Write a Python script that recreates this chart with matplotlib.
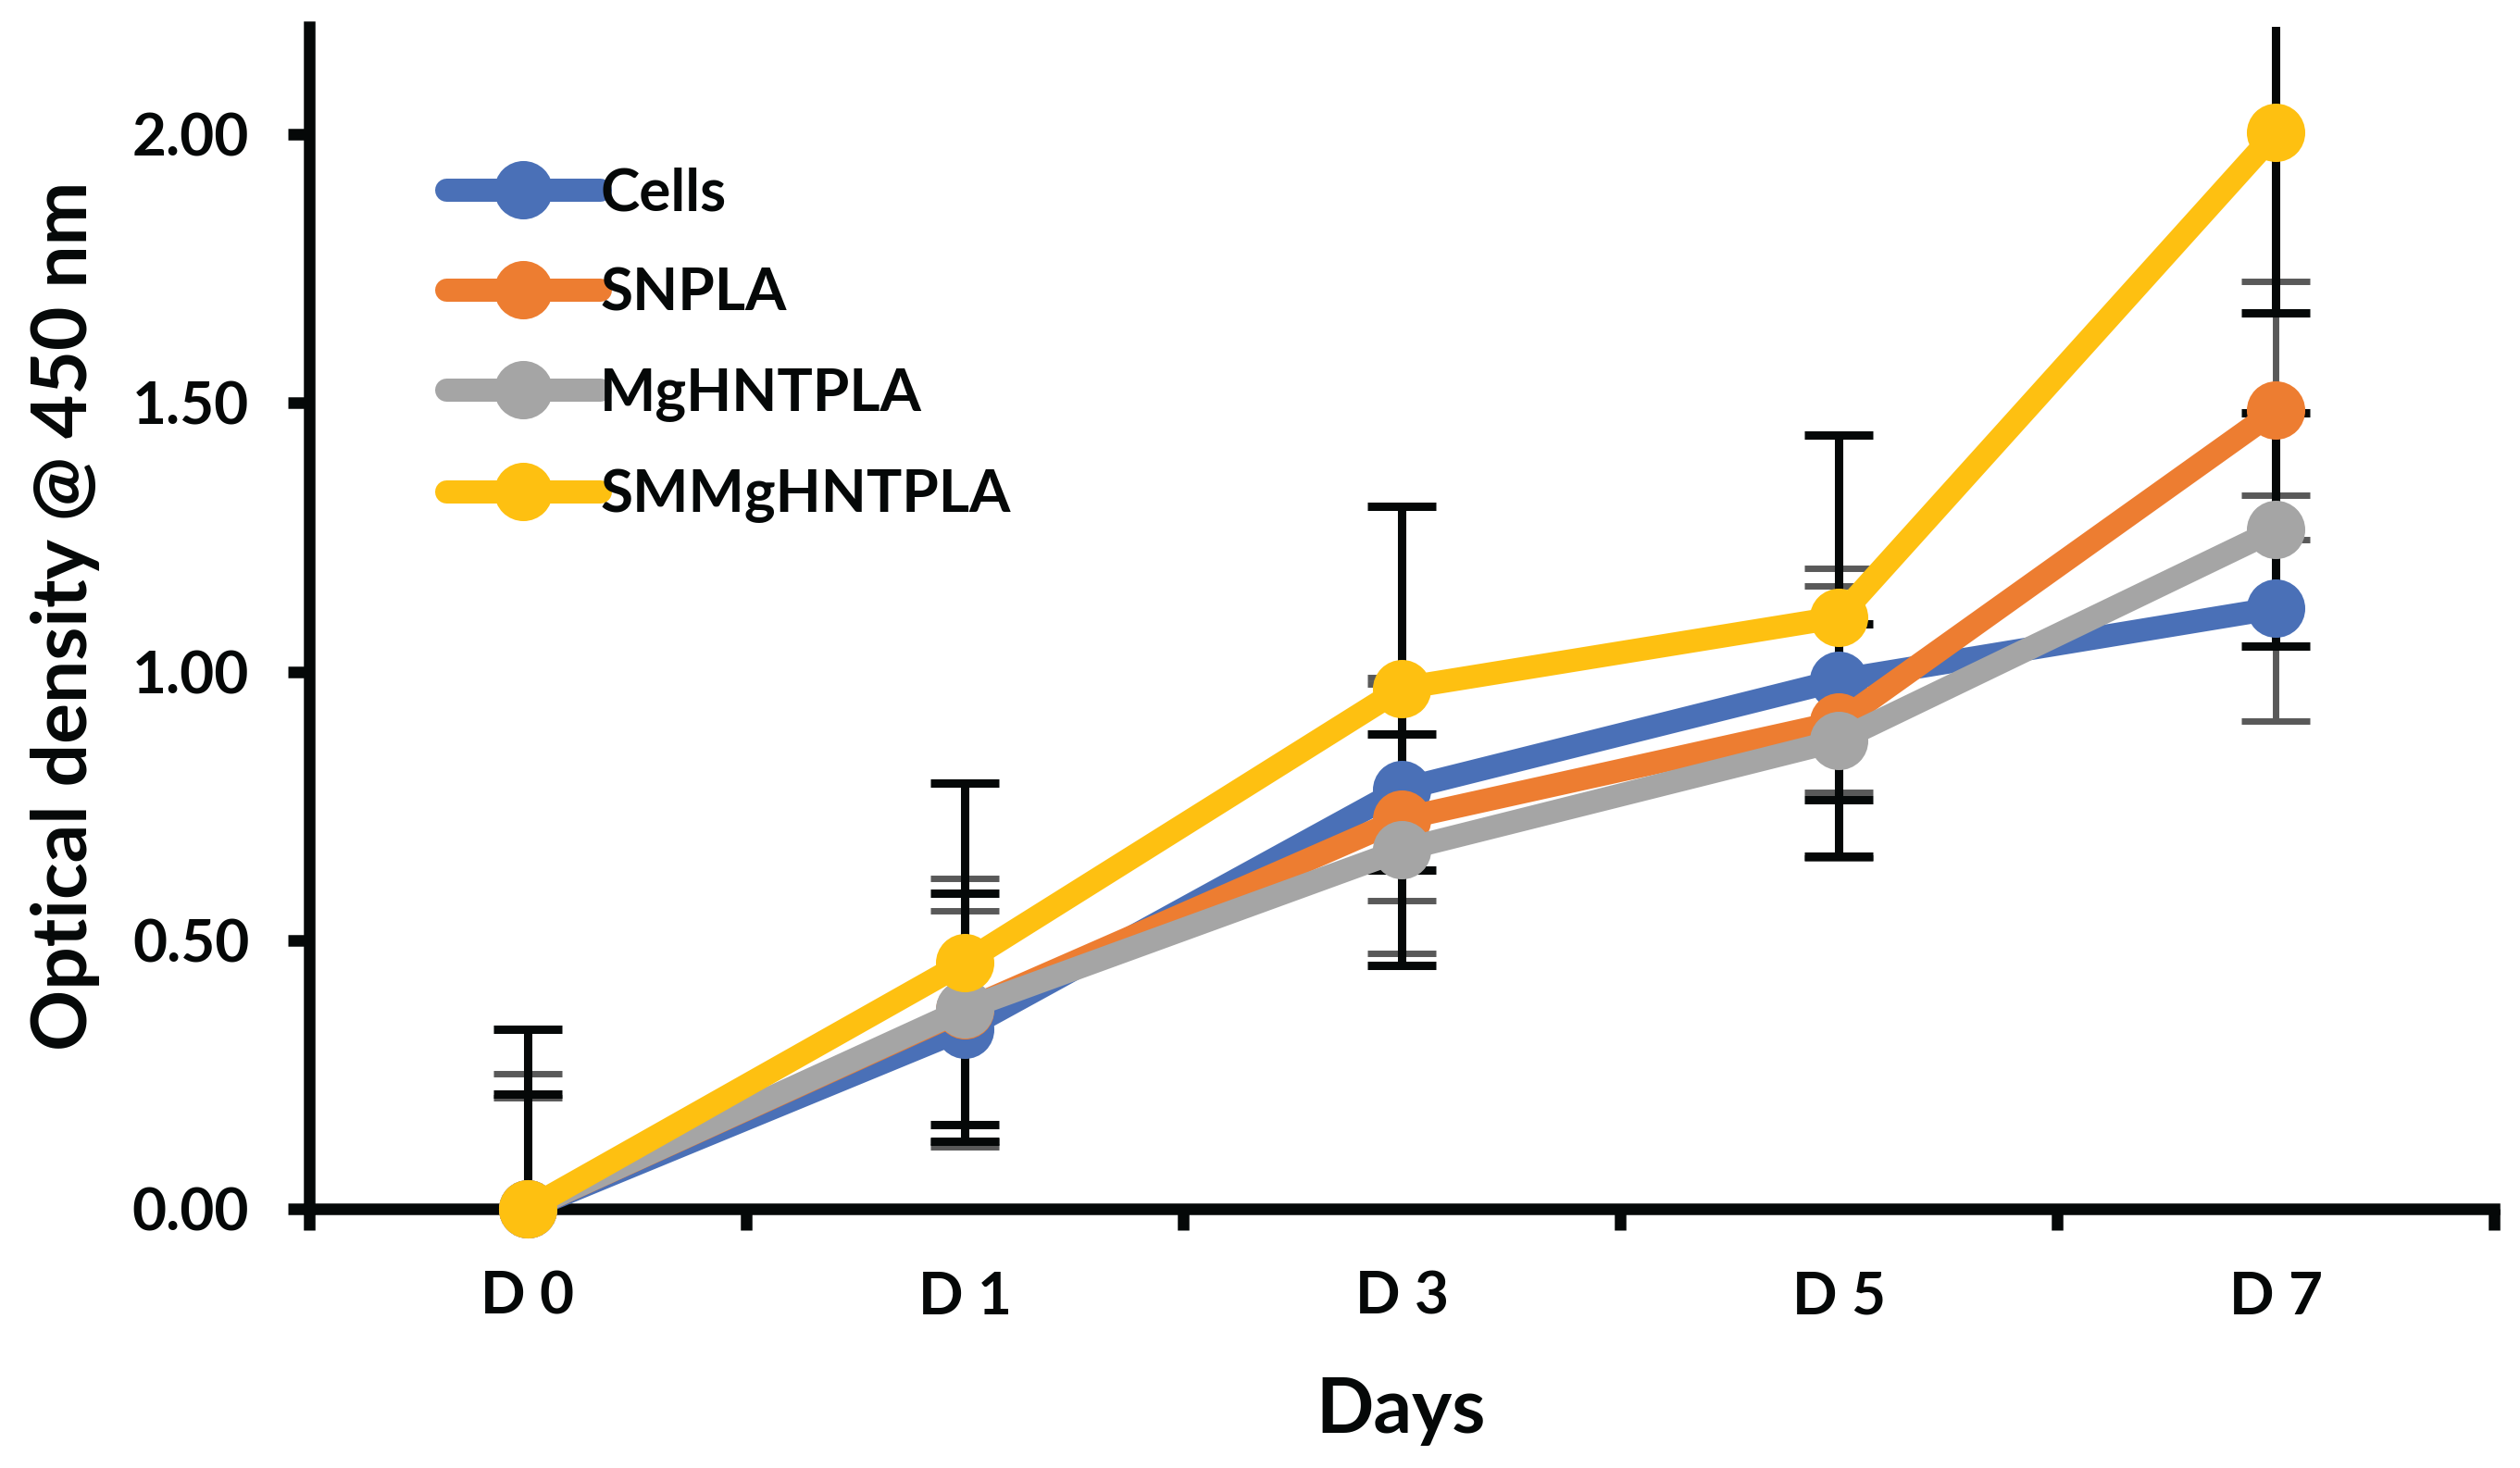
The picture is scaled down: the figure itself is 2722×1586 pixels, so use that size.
import matplotlib
matplotlib.use("Agg")
import matplotlib.pyplot as plt
import numpy as np

plt.rcParams['font.family'] = ['Lato', 'DejaVu Sans']
plt.rcParams['font.weight'] = 'bold'

categories = ["D 0", "D 1", "D 3", "D 5", "D 7"]
series_names = ["Cells", "SNPLA", "MgHNTPLA", "SMMgHNTPLA"]

cells = [0.0, 0.335, 0.781, 0.984, 1.118]
snpla = [0.0, 0.370, 0.726, 0.906, 1.486]
mghntpla = [0.0, 0.372, 0.668, 0.872, 1.264]
smmghntpla = [0.0, 0.459, 0.969, 1.101, 2.003]

cells_err = [0.206, 0.220, 0.208, 0.209, 0.210]
snpla_err = [0.251, 0.245, 0.251, 0.253, 0.241]
mghntpla_err = [0.214, 0.215, 0.215, 0.216, 0.217]
smmghntpla_err = [0.334, 0.334, 0.338, 0.339, 0.335]

yticks = [0.0, 0.5, 1.0, 1.5, 2.0]

values = [cells, snpla, mghntpla, smmghntpla]
errors = [cells_err, snpla_err, mghntpla_err, smmghntpla_err]
line_colors = ['#4A70B7', '#ED7D31', '#A5A5A5', '#FEC011']
err_colors = ['#595959', '#595959', '#050808', '#050808']
err_widths = [2.5, 2.5, 3.25, 3.25]

W, H, DPI = 2722, 1586, 200
fig = plt.figure(figsize=(W / DPI, H / DPI), dpi=DPI)
ax = fig.add_axes([334 / W, (H - 1306) / H, (2694 - 334) / W, (1306 - 29) / H])

x = np.arange(len(categories))

# error bars (underneath everything)
for vals, errs, ec, ew in zip(values, errors, err_colors, err_widths):
    ax.errorbar(x, vals, yerr=errs, fmt='none', ecolor=ec, elinewidth=ew,
                capsize=13.3, capthick=ew, zorder=1)

# lines with markers
for i, (vals, name, col) in enumerate(zip(values, series_names, line_colors)):
    ax.plot(x, vals, color=col, lw=9, marker='o', markersize=22.7,
            markeredgewidth=0, solid_capstyle='round', solid_joinstyle='round',
            label=name, zorder=3 + i, clip_on=False)

ax.set_xlim(-0.5, len(categories) - 0.5)
ax.set_ylim(0, 2.2)

for s in ['top', 'right']:
    ax.spines[s].set_visible(False)
for s in ['left', 'bottom']:
    ax.spines[s].set_linewidth(4.5)
    ax.spines[s].set_color('#050808')

ax.set_yticks(yticks)
ax.set_yticklabels([f"{v:.2f}" for v in yticks])
ax.tick_params(axis='y', direction='out', length=8.3, width=4.5, color='#050808',
               labelsize=23, pad=15, labelcolor='#050808')

ax.set_xticks(np.arange(-0.5, len(categories), 1.0))
ax.set_xticklabels([])
ax.set_xticks(x, minor=True)
ax.set_xticklabels(categories, minor=True)
ax.tick_params(axis='x', which='major', direction='out', length=8.3, width=4.5,
               color='#050808')
ax.tick_params(axis='x', which='minor', length=0, labelsize=23, pad=24,
               labelcolor='#050808')

fig.text(33 / W, (H - 665) / H, "Optical density @ 450 nm", rotation=90,
         ha='left', va='center', fontsize=29.5, fontweight='bold', color='#050808')
fig.text(1513 / W, (H - 1548) / H, "Days", ha='center', va='baseline',
         fontsize=29.5, fontweight='bold', color='#050808')

leg = ax.legend(loc='upper left', bbox_to_anchor=(482 / W, (H - 180) / H),
                bbox_transform=fig.transFigure, frameon=False, fontsize=23,
                handlelength=2.6, handletextpad=0.0, labelspacing=0.8,
                borderaxespad=0, borderpad=0, numpoints=1)
for t in leg.get_texts():
    t.set_color('#050808')

fig.savefig("out.png", dpi=DPI)
